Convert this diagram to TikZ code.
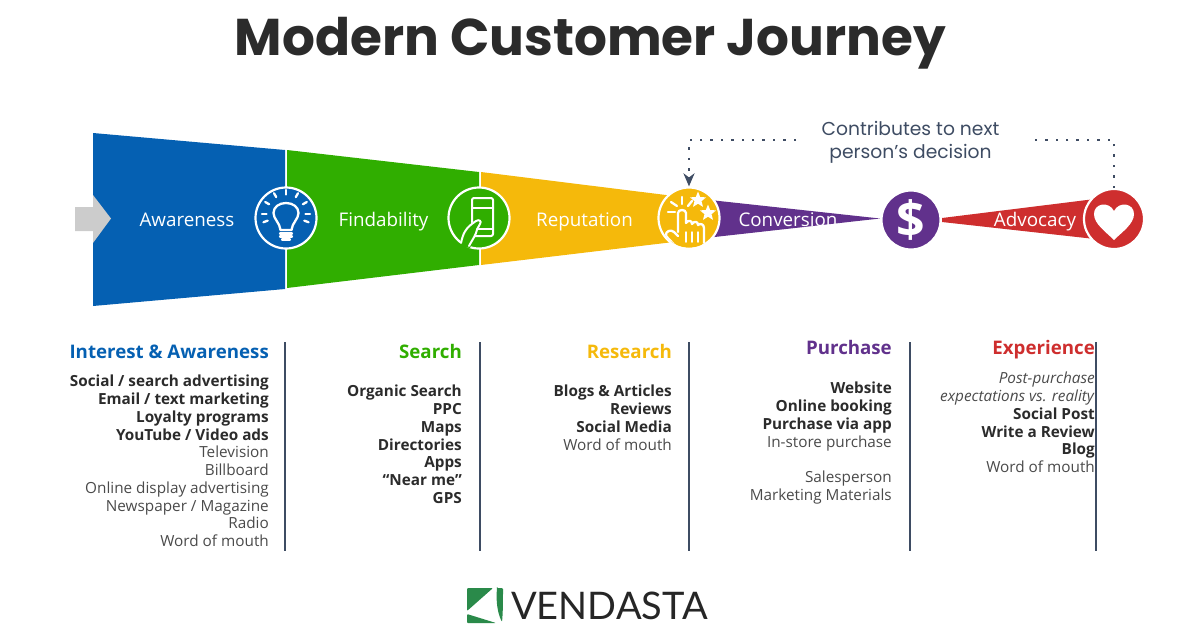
\documentclass[tikz,border=0pt]{standalone}
\usepackage{fontspec}
\setmainfont{Open Sans}
\newfontfamily\titlefont{Poppins}
\newfontfamily\logofont{Lato}
\usetikzlibrary{arrows.meta}
\usetikzlibrary{shapes.geometric}

\definecolor{awareblue}{HTML}{0560B2}
\definecolor{findgreen}{HTML}{30AE00}
\definecolor{repyellow}{HTML}{F5B90B}
\definecolor{convpurple}{HTML}{61318C}
\definecolor{advred}{HTML}{CE2E2E}
\definecolor{ruleblue}{HTML}{3E4C63}
\definecolor{inkdark}{HTML}{2B2B2B}
\definecolor{inklight}{HTML}{4A4A4A}
\definecolor{logogreen}{HTML}{2A8A4A}

\begin{document}
\begin{tikzpicture}[
  x=1pt, y=-1pt,
  ringnode/.style={draw=white, circle, line width=2.2pt, minimum size=61pt, inner sep=0pt},
  stagelabel/.style={anchor=base, text=white, font=\fontsize{18.8}{20}\selectfont, inner sep=0pt},
  headnode/.style={anchor=base east, inner sep=0pt, font=\fontsize{18.7}{22}\selectfont\bfseries},
  listnode/.style={anchor=north east, inner sep=0pt, align=right, text=inklight, font=\fontsize{15.3}{17.75}\selectfont},
  rule/.style={draw=ruleblue, line width=1.5pt},
  iconline/.style={draw=white, line width=2.3pt, line cap=round, line join=round},
  dotline/.style={draw=ruleblue, line width=2.6pt, dash pattern=on 2.4pt off 8pt},
  staricon/.style={star, star points=5, star point ratio=2.3, fill=white, inner sep=0pt, minimum size=17pt}
]
\useasboundingbox (0,0) rectangle (1200,638);

% Title
\node[anchor=base, font=\titlefont\fontsize{51.7}{54}\selectfont\bfseries, text=inkdark, inner sep=0pt] (title) at (590.5,55) {Modern Customer Journey};

% Funnel
\fill[awareblue] (93,133) -- (285,150) -- (285,289) -- (93,306) -- cycle;
\fill[findgreen] (287,150) -- (479,172) -- (479,265) -- (287,288) -- cycle;
\fill[repyellow] (481,172) -- (682,197) -- (682,241) -- (481,265) -- cycle;
\fill[convpurple] (710,200) -- (880,218.5) -- (710,237.5) -- cycle;
\fill[advred] (942,218) -- (1095,199) -- (1095,239) -- (942,222) -- cycle;
\fill[black!20] (75,207) -- (93,207) -- (93,195) -- (111,218.5) -- (93,243) -- (93,231) -- (75,231) -- cycle;

% Stage labels
\node[stagelabel] (awareness) at (187,226) {Awareness};
\node[stagelabel] (findability) at (383.5,226) {Findability};
\node[stagelabel] (reputation) at (584.5,226) {Reputation};
\node[stagelabel] (conversion) at (788,226) {Conversion};
\node[stagelabel] (advocacy) at (1035,226) {Advocacy};

% Circles
\node[ringnode, fill=awareblue] (bulb) at (286,218) {};
\node[ringnode, fill=findgreen] (phone) at (479,218) {};
\node[ringnode, fill=repyellow] (click) at (689,218) {};
\node[ringnode, fill=convpurple, minimum size=59pt] (dollar) at (911,220) {\textcolor{white}{\fontsize{50}{50}\selectfont\bfseries\$}};
\node[ringnode, fill=advred, minimum size=60pt] (heart) at (1114,219) {};

% Bulb icon
\begin{scope}[shift={(bulb.center)}]
  \draw[iconline] (-5.5,12) .. controls (-6,5) and (-12.5,1) .. (-12.5,-5) .. controls (-12.5,-11) and (-7,-15) .. (0,-15)
    .. controls (7,-15) and (12.5,-11) .. (12.5,-5) .. controls (12.5,1) and (6,5) .. (5.5,12) -- cycle;
  \draw[iconline] (-6,15.5) -- (6,15.5);
  \draw[iconline] (-6,18.5) -- (6,18.5);
  \draw[iconline] (-4,21.5) -- (4,21.5);
  \foreach \ang in {-200,-180,-150,-120,-90,-60,-30,0,20}
    \draw[iconline] ([shift={(0,-4)}]\ang:19.5) -- ([shift={(0,-4)}]\ang:24);
\end{scope}

% Phone icon
\begin{scope}[shift={(phone.center)}]
  \draw[iconline, line width=2pt, rounded corners=2pt] (-7,-20) rectangle (14,18);
  \draw[iconline, line width=2pt] (-7,-10) -- (14,-10);
  \draw[iconline, line width=2pt] (-1,11) -- (14,11);
  \fill[findgreen] (-20,28) -- (-12,8) -- (-3,2) -- (2,4) -- (-3,15) -- (-9,30) -- cycle;
  \draw[iconline, line width=2pt] (-18,25) .. controls (-16,16) and (-14,10) .. (-3,3) .. controls (0,1) and (3,3) .. (1,6)
    .. controls (-1,10) and (-3,12) .. (-3,15) .. controls (-5,20) and (-8,24) .. (-10,28);
\end{scope}

% Click icon
\begin{scope}[shift={(click.center)}]
  \begin{scope}
    \clip (0,0) circle (29.5);
    \draw[iconline, fill=repyellow] (-11,14) -- (-11,-5) .. controls (-11,-9) and (-3,-9) .. (-3,-5) -- (-3,5)
      .. controls (-1,2) and (3,2) .. (3,6) .. controls (5,3) and (9,3) .. (9,7) .. controls (11,5) and (15,6) .. (15,10)
      -- (15,34) -- (-8,34) -- (-23,18) .. controls (-24,13) and (-18,11) .. (-15,14) -- (-11,18);
    \draw[iconline, line width=1.5pt] (-3,14) -- (-3,24);
    \draw[iconline, line width=1.5pt] (3,14) -- (3,24);
    \draw[iconline, line width=1.5pt] (9,14) -- (9,24);
  \end{scope}
  \draw[iconline] (-21,-6) -- (-14,-6);
  \draw[iconline] (-18,-16) -- (-12,-12);
  \draw[iconline] (-7,-21) -- (-7,-14);
  \draw[iconline] (3,-17) -- (-1,-12);
  \node[staricon] (starone) at (9,-18) {};
  \node[staricon] (startwo) at (19,-5) {};
\end{scope}

% Heart icon
\begin{scope}[shift={(heart.center)}]
  \fill[white] (0,21) .. controls (-8,13) and (-20,5) .. (-20,-5) .. controls (-20,-16) and (-5,-18) .. (0,-8)
    .. controls (5,-18) and (20,-16) .. (20,-5) .. controls (20,5) and (8,13) .. (0,21) -- cycle;
\end{scope}

% Contributes note and dotted connector
\node[align=center, inner sep=0pt, text=ruleblue, font=\titlefont\fontsize{18.7}{23}\selectfont] (note) at (910.5,142) {Contributes to next\\person’s decision};
\coordinate (noteleft) at (796,140);
\coordinate (noteright) at (1028,140);
\draw[dotline] (heart.north) |- (noteright);
\draw[dotline, -{Stealth[length=13pt, width=11pt, inset=4pt]}] (noteleft) -| (click.north);

% Rules between the lists
\coordinate (rtopa) at (285,342);
\coordinate (rbota) at (285,551);
\coordinate (rtopb) at (480,342);
\coordinate (rbotb) at (480,551);
\coordinate (rtopc) at (689,342);
\coordinate (rbotc) at (689,551);
\coordinate (rtopd) at (910,342);
\coordinate (rbotd) at (910,551);
\coordinate (rtope) at (1096,342);
\coordinate (rbote) at (1096,551);
\draw[rule] (rtopa) -- (rbota);
\draw[rule] (rtopb) -- (rbotb);
\draw[rule] (rtopc) -- (rbotc);
\draw[rule] (rtopd) -- (rbotd);
\draw[rule] (rtope) -- (rbote);

% Column heads
\node[headnode, text=awareblue] (headint) at (269,358) {Interest \& Awareness};
\node[headnode, text=findgreen] (headsearch) at (462,358) {Search};
\node[headnode, text=repyellow] (headres) at (672,358) {Research};
\node[headnode, text=convpurple] (headpur) at (892,354) {Purchase};
\node[headnode, text=advred] (headexp) at (1095,354) {Experience};

% Column lists
\node[listnode] (listint) at (269,375) {\textcolor{inkdark}{\bfseries Social / search advertising}\\
  \textcolor{inkdark}{\bfseries Email / text marketing}\\
  \textcolor{inkdark}{\bfseries Loyalty programs}\\
  \textcolor{inkdark}{\bfseries YouTube / Video ads}\\
  Television\\Billboard\\Online display advertising\\Newspaper / Magazine\\Radio\\Word of mouth};
\node[listnode, text=inkdark, font=\fontsize{15.3}{17.75}\selectfont\bfseries] (listsearch) at (462,385) {Organic Search\\PPC\\Maps\\Directories\\Apps\\“Near me”\\GPS};
\node[listnode] (listres) at (672,385) {\textcolor{inkdark}{\bfseries Blogs \& Articles}\\
  \textcolor{inkdark}{\bfseries Reviews}\\
  \textcolor{inkdark}{\bfseries Social Media}\\
  Word of mouth};
\node[listnode] (listpur) at (892,382) {\textcolor{inkdark}{\bfseries Website}\\
  \textcolor{inkdark}{\bfseries Online booking}\\
  \textcolor{inkdark}{\bfseries Purchase via app}\\
  In-store purchase\\[17.75pt]
  Salesperson\\Marketing Materials};
\node[listnode] (listexp) at (1095,372) {\textit{Post-purchase}\\\textit{expectations vs. reality}\\
  \textcolor{inkdark}{\bfseries Social Post}\\
  \textcolor{inkdark}{\bfseries Write a Review}\\
  \textcolor{inkdark}{\bfseries Blog}\\
  Word of mouth};

% Logo
\fill[logogreen, rounded corners=1pt] (467,588) -- (493,588) -- (467,611) -- cycle;
\fill[logogreen, rounded corners=1pt] (467,614) -- (496,623) -- (467,623) -- cycle;
\fill[logogreen, rounded corners=1pt] (497,588) -- (503,588) .. controls (503,600) and (503,612) .. (502,622) .. controls (497,612) and (496,600) .. (497,588) -- cycle;
\node[anchor=base west, inner sep=0pt, text=black!85, font=\logofont\fontsize{38}{38}\selectfont] (logotext) at (511,619) {VENDASTA};

\end{tikzpicture}
\end{document}
